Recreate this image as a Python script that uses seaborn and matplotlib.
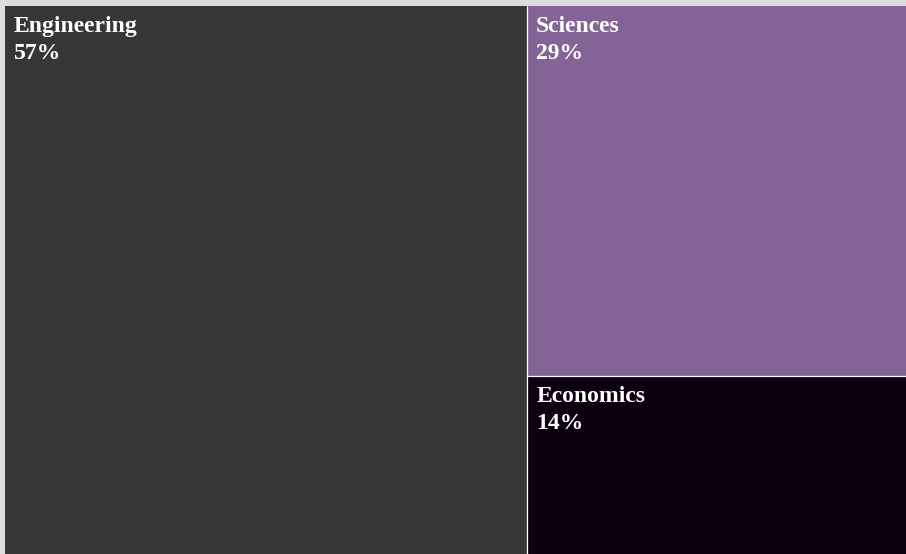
import matplotlib
matplotlib.use('Agg')
import matplotlib.pyplot as plt
import seaborn as sns

# ============================================================
# DATA
# ============================================================

categories = ['Engineering', 'Sciences', 'Economics']
shares     = [57, 29, 14]
colors     = ['#363636', '#846496', '#0c0010']

sns.set_theme(style='white')
plt.rcParams['font.family'] = ['Liberation Serif', 'DejaVu Serif']

# ============================================================
# TREEMAP LAYOUT  (first item = left column, rest stacked right)
# ============================================================

total  = sum(shares)
left_w = shares[0] / total * 100
rest   = sum(shares[1:])

rects = [(0, 0, left_w, 100)]           # x, y(bottom), w, h
y_top = 100
for s in shares[1:]:
    h = s / rest * 100
    rects.append((left_w, y_top - h, 100 - left_w, h))
    y_top -= h

fig = plt.figure(figsize=(9.06, 5.54), dpi=100)
fig.patch.set_facecolor('#dcdcdc')

# treemap overflows the container on the right, as in the original
ax = fig.add_axes([5 / 906, 0, 916 / 906, 548 / 554])
ax.set_xlim(0, 100)
ax.set_ylim(0, 100)
ax.axis('off')

for (x, y, w, h), cat, s, c in zip(rects, categories, shares, colors):
    ax.bar(x, h, width=w, bottom=y, align='edge', color=c, linewidth=0)
    ax.annotate(f'{cat}\n{s}%', xy=(x, y + h), xytext=(6.5, -7.5),
                textcoords='offset points', ha='left', va='top',
                color='white', fontsize=17, fontweight='bold',
                linespacing=1.35)

# thin white separators between tiles only
ax.axvline(left_w, color='white', linewidth=0.9)
for (x, y, w, h) in rects[2:]:
    ax.hlines(y + h, x, x + w, color='white', linewidth=0.9)

plt.savefig('out.png', dpi=100, facecolor=fig.get_facecolor())
